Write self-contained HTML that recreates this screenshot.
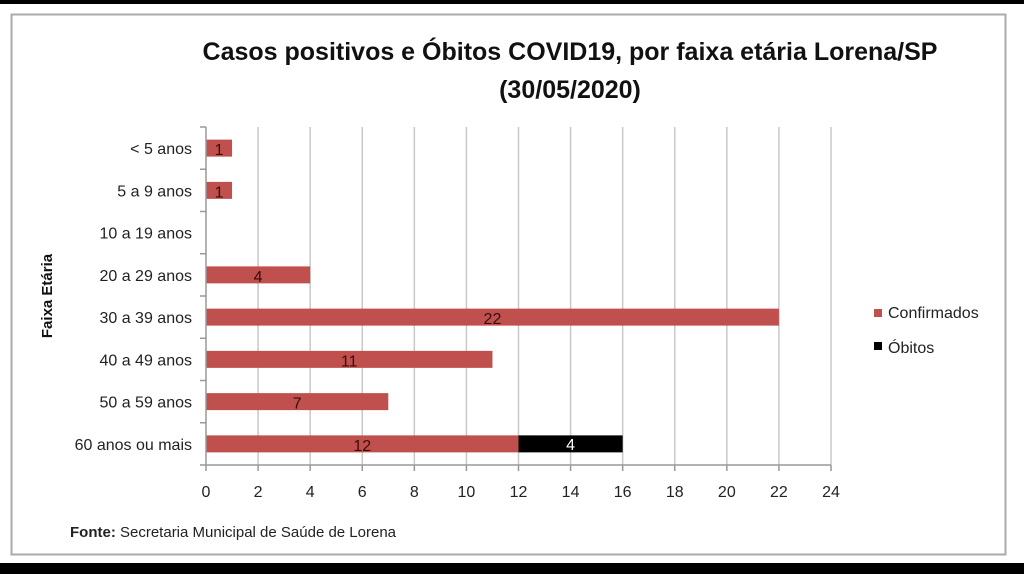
<!DOCTYPE html>
<html><head><meta charset="utf-8"><style>
body{margin:0;background:#000;}
svg{display:block;font-family:"Liberation Sans",sans-serif;}
</style></head><body>
<svg id="chart" width="1024" height="574" viewBox="0 0 1024 574">
<rect x="0" y="0" width="1024" height="574" fill="#000"/>
<rect x="0" y="4" width="1024" height="559" fill="#fff"/>
<rect x="11.5" y="14.5" width="994" height="540" fill="#fff" stroke="#aaa" stroke-width="2"/>
<text x="570" y="60" text-anchor="middle" font-size="25" font-weight="bold" fill="#111">Casos positivos e Óbitos COVID19, por faixa etária Lorena/SP</text>
<text x="570" y="98" text-anchor="middle" font-size="25" font-weight="bold" fill="#111">(30/05/2020)</text>
<g id="grid"></g><g id="bars"></g><g id="axes"></g>
<text transform="translate(52,296) rotate(-90)" text-anchor="middle" font-size="15" font-weight="bold" fill="#111">Faixa Etária</text>
<rect x="874" y="309" width="8" height="8" fill="#c0504d"/>
<text x="888" y="318" font-size="16" fill="#222">Confirmados</text>
<rect x="874" y="342" width="8" height="8" fill="#000"/>
<text x="888" y="353" font-size="16" fill="#222">Óbitos</text>
<text x="70" y="537" font-size="15" fill="#222"><tspan font-weight="bold">Fonte:</tspan> Secretaria Municipal de Saúde de Lorena</text>
</svg>
<script>
const categories=["< 5 anos","5 a 9 anos","10 a 19 anos","20 a 29 anos","30 a 39 anos","40 a 49 anos","50 a 59 anos","60 anos ou mais"];
const confirmados=[1,1,0,4,22,11,7,12];
const obitos=[0,0,0,0,0,0,0,4];
const xTicks=[0,2,4,6,8,10,12,14,16,18,20,22,24];
const NS="http://www.w3.org/2000/svg";
const X0=206,X1=831,XMAX=24,YT=127,YB=465;
const xs=v=>X0+(v/XMAX)*(X1-X0);
const band=(YB-YT)/categories.length;
const yc=i=>YT+band*(i+0.5);
function mk(p,t,a){const e=document.createElementNS(NS,t);for(const k in a)e.setAttribute(k,a[k]);p.appendChild(e);return e;}
const grid=document.getElementById('grid'),bars=document.getElementById('bars'),axes=document.getElementById('axes');
xTicks.forEach(t=>{
  if(t>0){const g=mk(grid,'line',{x1:xs(t),x2:xs(t),y1:YT,y2:YB,stroke:'#c8c8c8','stroke-width':1.5});
  
  }
  const tk=mk(axes,'line',{x1:xs(t),x2:xs(t),y1:YB,y2:YB+6,stroke:'#999','stroke-width':1.5});
  
  
  const tl=mk(axes,'text',{x:xs(t),y:YB+32,'text-anchor':'middle','font-size':16,fill:'#222'});
  tl.textContent=t;
  
  
});
const ax=mk(axes,'line',{x1:X0,x2:X1,y1:YB,y2:YB,stroke:'#999','stroke-width':1.5});


const ay=mk(axes,'line',{x1:X0,x2:X0,y1:YT,y2:YB,stroke:'#999','stroke-width':1.5});


for(let i=0;i<=categories.length;i++){
  const t=mk(axes,'line',{x1:X0-6,x2:X0,y1:YT+band*i,y2:YT+band*i,stroke:'#999','stroke-width':1.5});
  
  
}
const bh=17;
categories.forEach((c,i)=>{
  const y=yc(i);
  const l=mk(axes,'text',{x:X0-14,y:y+6,'text-anchor':'end','font-size':16,fill:'#222'});
  l.textContent=c;
  
  
  if(confirmados[i]>0){
    const r=mk(bars,'rect',{x:xs(0),y:y-bh/2,width:xs(confirmados[i])-xs(0),height:bh,fill:'#c0504d'});
    
    
    const t=mk(bars,'text',{x:(xs(0)+xs(confirmados[i]))/2,y:y+7,'text-anchor':'middle','font-size':16,fill:'#3a0a0a'});
    t.textContent=confirmados[i];
    
    
  }
  if(obitos[i]>0){
    const a=confirmados[i],b=confirmados[i]+obitos[i];
    const r=mk(bars,'rect',{x:xs(a),y:y-bh/2,width:xs(b)-xs(a),height:bh,fill:'#000'});
    
    
    const t=mk(bars,'text',{x:(xs(a)+xs(b))/2,y:y+6,'text-anchor':'middle','font-size':16,fill:'#fff'});
    t.textContent=obitos[i];
    
    
  }
});
</script>
</body></html>
